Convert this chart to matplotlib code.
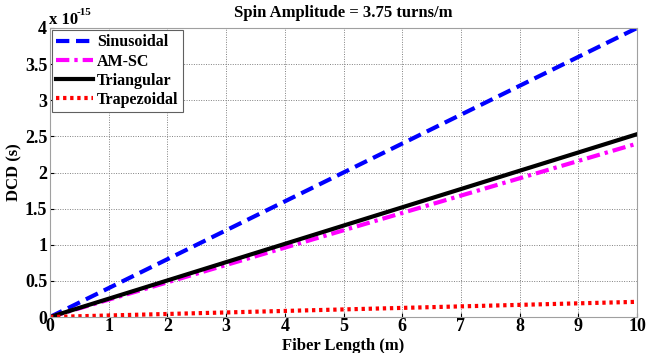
import matplotlib
matplotlib.use('Agg')
import matplotlib.pyplot as plt

# data (DCD in units of 1e-15 s)
fiber_length = [0, 10]
sinusoidal = [0, 4.0]
amsc = [0, 2.40]
triangular = [0, 2.53]
trapezoidal = [0, 0.21]

plt.rcParams['font.family'] = ['Liberation Serif', 'DejaVu Serif']
plt.rcParams['font.weight'] = 'bold'

fig = plt.figure(figsize=(6.59, 3.53), dpi=100)
ax = fig.add_axes([50/659, 1-317/353, 587/659, 289/353])

ax.plot(fiber_length, sinusoidal, color='#0000ff', lw=3, ls=(0, (3.2, 1.6)), label='Sinusoidal')
ax.plot(fiber_length, amsc, color='#ff00ff', lw=3, ls=(0, (3.2, 1.2, 0.8, 1.2)), label='AM-SC')
ax.plot(fiber_length, triangular, color='black', lw=3, ls='-', label='Triangular')
ax.plot(fiber_length, trapezoidal, color='#ff0000', lw=3, ls=(0, (0.8, 0.9)), label='Trapezoidal')

ax.set_xlim(0, 10)
ax.set_ylim(0, 4)
ax.set_xticks(range(0, 11))
ax.set_yticks([0, 0.5, 1, 1.5, 2, 2.5, 3, 3.5, 4])
ax.set_yticklabels(['0', '0.5', '1', '1.5', '2', '2.5', '3', '3.5', '4'])
ax.tick_params(labelsize=13, length=3, direction='in', pad=2)
ax.tick_params(axis='x', pad=1)
for lab in ax.get_xticklabels() + ax.get_yticklabels():
    lab.set_fontweight('bold')
ax.grid(True, ls=(0, (1, 1.5)), color='#808080', lw=0.7)
for s in ax.spines.values():
    s.set_color('#a0a0a0')

fig.text(343/659, 1-350/353, 'Fiber Length (m)', fontsize=12, fontweight='bold',
         ha='center', va='baseline')
ax.set_ylabel('DCD (s)', fontsize=12, fontweight='bold', labelpad=2)
ax.set_title('Spin Amplitude = 3.75 turns/m', fontsize=12, fontweight='bold', pad=8)
fig.text(49/659, 1-24/353, 'x 10', fontsize=12, fontweight='bold', va='baseline')
fig.text(77/659, 1-15/353, '-15', fontsize=8, fontweight='bold', va='baseline')

leg = ax.legend(loc='upper left', fontsize=11.5, handlelength=2.3, handletextpad=0.25,
                borderaxespad=0.15, labelspacing=0.2, fancybox=False, framealpha=1,
                borderpad=0.25)
leg.get_frame().set_edgecolor('#606060')
leg.get_frame().set_linewidth(0.8)
for t in leg.get_texts():
    t.set_fontweight('bold')

fig.savefig('out.png', dpi=100)
